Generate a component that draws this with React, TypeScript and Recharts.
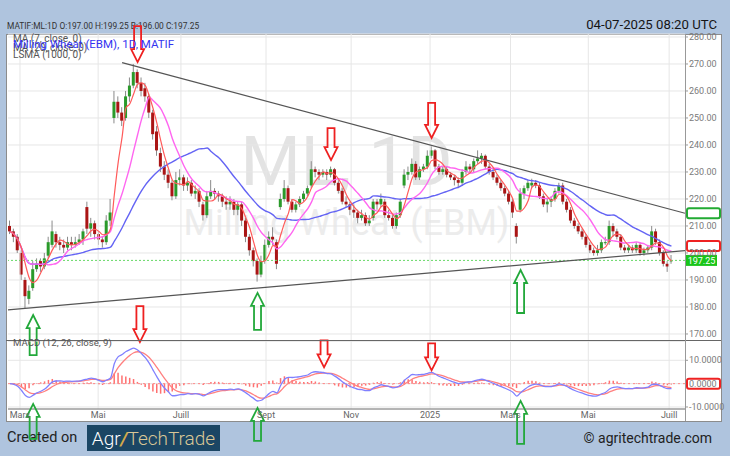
import React from 'react';
import {
  ComposedChart,
  Bar,
  Line,
  XAxis,
  YAxis,
  CartesianGrid,
  ReferenceLine,
  ReferenceDot,
} from 'recharts';

// One candle = two trading sessions
const opens = [
  210, 208, 206, 200, 190, 183, 187, 194, 197, 195,
  199, 203, 207, 204, 203, 202, 204, 203, 204, 205,
  217, 209, 211, 207, 205, 204, 212, 250, 256, 252,
  250, 258, 262, 267, 263, 261, 258, 252, 245, 237,
  232, 229, 226, 221, 227, 228, 225, 226, 222, 223,
  218, 214, 221, 223, 222, 221, 219, 218, 219, 216,
  218, 212, 206, 201, 197, 192, 197, 203, 206, 204,
  217, 220, 224, 219, 216, 218, 220, 222, 225, 231,
  230, 229, 230, 229, 231, 226, 223, 219, 218, 216,
  215, 213, 214, 211, 213, 219, 218, 219, 214, 213,
  210, 214, 225, 229, 230, 233, 228, 231, 232, 236,
  238, 232, 230, 231, 229, 228, 227, 226, 230, 232,
  231, 234, 235, 236, 232, 230, 228, 226, 224, 222,
  219, 210, 216, 222, 224, 225, 226, 225, 221, 218,
  219, 220, 223, 225, 219, 216, 212, 210, 208, 206,
  203, 201, 200, 201, 204, 204, 210, 208, 206, 202,
  201, 202, 201, 203, 200, 201, 202, 208, 204, 200,
  196, 197,
];
const highs = [
  212, 209, 207, 201, 191, 188, 197, 198, 198, 200,
  206, 212, 208, 206, 205, 206, 206, 206, 207, 209,
  219, 213, 212, 208, 206, 214, 220, 260, 258, 254,
  260, 265, 270, 268, 265, 263, 259, 253, 247, 239,
  234, 231, 227, 230, 231, 229, 228, 227, 225, 224,
  219, 223, 227, 224, 223, 222, 221, 221, 220, 219,
  219, 213, 207, 202, 198, 199, 205, 208, 209.5, 205,
  222, 227, 225, 220, 219, 221, 223, 225, 234, 232,
  231, 231, 231, 232, 231.5, 227, 224, 221, 219, 218,
  216, 216, 215, 214, 220, 220, 222, 220, 216, 214,
  215, 220, 231, 232, 235, 234, 232, 233, 238, 239.5,
  238.5, 233, 232, 232, 230, 229, 228, 231, 234, 233,
  235, 238, 237, 236.5, 233, 231, 229, 227, 225, 223,
  220, 211, 224, 225, 227, 227.5, 227, 226, 222, 220,
  221, 224, 226, 226, 220, 217, 213, 211, 209, 207,
  204, 202, 203, 205, 206, 212, 211, 209, 207, 203,
  203, 203, 204, 204, 202, 203, 210, 209, 205, 201,
  197, 199.25,
];
const lows = [
  207, 204, 200, 190, 179.5, 181, 186, 193, 193, 194,
  198, 202, 202, 201, 200, 201, 201, 202, 203, 203,
  207, 206, 205, 203, 202, 203, 210, 248, 250, 247,
  249, 256, 261, 261, 258, 256, 250, 242, 236, 230,
  227, 224, 219.5, 220, 225, 223, 223, 221, 220, 217,
  212, 213, 220, 220, 219, 217, 216, 216, 214, 214,
  210, 204, 199, 195, 189.4, 191, 196, 202, 203, 194,
  216, 219, 218, 215, 215, 217, 219, 221, 224, 228,
  227, 228, 227, 228, 225, 222, 218, 217, 214, 213,
  211, 212, 210, 210, 212, 216, 217, 213, 212, 209,
  209, 213, 224, 227, 229, 227, 227, 230, 231, 235,
  231, 229, 229, 228, 227, 225, 224, 225, 229, 230,
  230, 233, 233, 231, 229, 227, 225, 223, 221, 218,
  213, 203.5, 215, 220, 223, 224, 224, 220, 217, 215,
  217, 219, 222, 218, 215, 211, 209, 207, 205, 202,
  200, 199, 199, 200, 203, 203, 206, 205, 201, 200,
  200, 200, 200, 199, 199, 200, 201, 203, 199, 195,
  193, 196,
];
const closes = [
  208, 206, 201, 192, 184, 186, 194, 196, 195, 198,
  204, 208, 204, 203, 202, 204, 203, 204, 205, 208,
  209, 211, 207, 205, 204, 212, 215, 256, 252, 249,
  258, 262, 267, 263, 260, 258, 252, 244, 238, 232,
  229, 226, 221, 227, 228, 225, 226, 222, 223, 219,
  214, 221, 223, 222, 221, 219, 218, 219, 216, 218,
  212, 206, 201, 197, 192, 197, 203, 206, 205, 196,
  220, 224, 219, 216, 218, 220, 222, 224, 231, 230,
  229, 230, 229, 231, 226, 223, 219, 218, 216, 215,
  213, 214, 211, 212, 219, 218, 220, 214, 213, 210,
  214, 219, 229, 230, 233, 228, 231, 232, 236, 238,
  232, 230, 231, 229, 228, 227, 226, 230, 232, 231,
  234, 235, 236, 232, 230, 228, 226, 224, 222, 219,
  215, 206, 222, 224, 226, 226, 225, 221, 218, 219,
  220, 223, 225, 219, 216, 212, 210, 208, 206, 203,
  201, 200, 201, 204, 204, 210, 208, 206, 202, 201,
  202, 201, 203, 200, 201, 202, 208, 204, 200, 196,
  195, 197.25,
];

const dateTickIndex = [2.6, 22.8, 44.2, 66.2, 88.2, 108.6, 129.4, 149.5, 170.4];
const dateTickLabels = ['Mars', 'Mai', 'Juill', 'Sept', 'Nov', '2025', 'Mars', 'Mai', 'Juill'];
const priceTicks = [170, 180, 190, 200, 210, 220, 230, 240, 250, 260, 270, 280];
const macdTicks = [-10, 0, 10];
const lastPrice = 197.25;

const upperTrend = [{ x: 29, y: 270.5 }, { x: 174.5, y: 214.7 }];
const lowerTrend = [{ x: -0.5, y: 178.9 }, { x: 174.5, y: 200.9 }];

const priceArrows = [
  { i: 33, value: 270.7, dir: 'down', len: 36 },
  { i: 83, value: 234.4, dir: 'down', len: 32 },
  { i: 109, value: 242.6, dir: 'down', len: 35 },
  { i: 6, value: 177, dir: 'up', len: 40 },
  { i: 64, value: 185.2, dir: 'up', len: 37 },
  { i: 132, value: 193.7, dir: 'up', len: 43 },
];
const macdArrows = [
  { i: 33.6, value: 17.8, dir: 'down', len: 36 },
  { i: 81.2, value: 7.0, dir: 'down', len: 27 },
  { i: 109, value: 5.7, dir: 'down', len: 27 },
  { i: 6, value: -8.7, dir: 'up', len: 35 },
  { i: 64, value: -10.4, dir: 'up', len: 33 },
  { i: 132, value: -7.4, dir: 'up', len: 43 },
];
const priceAxisBoxes = [
  { value: 214.7, color: '#22aa33' },
  { value: 202.6, color: '#ee2222' },
];
const macdAxisBoxes = [{ value: 0, color: '#ee2222' }];

// Indicators (periods halved because each candle covers two sessions)
const sma = (arr: number[], n: number) =>
  arr.map((_, i) => {
    const w = arr.slice(Math.max(0, i - n + 1), i + 1);
    return w.reduce((a, b) => a + b, 0) / w.length;
  });
const ema = (arr: number[], n: number) => {
  const k = 2 / (n + 1);
  const out: number[] = [];
  arr.forEach((v, i) => out.push(i ? v * k + out[i - 1] * (1 - k) : v));
  return out;
};
const ma7 = sma(closes, 4);
const ma20 = sma(closes, 10);
const ma50 = sma(closes, 25);
const emaFast = ema(closes, 6);
const emaSlow = ema(closes, 13);
const macdLine = emaFast.map((v, i) => v - emaSlow[i]);
const signalLine = ema(macdLine, 4.5);

const rows = closes.map((c, i) => ({
  i,
  o: opens[i],
  h: highs[i],
  l: lows[i],
  c,
  range: [lows[i], highs[i]],
  ma7: ma7[i],
  ma20: ma20[i],
  ma50: ma50[i],
  macd: macdLine[i],
  signal: signalLine[i],
  hist: macdLine[i] - signalLine[i],
}));

const Candle = (props: any) => {
  const { x, y, width, height, payload } = props;
  if (x == null || y == null) return <g />;
  const top = Math.min(y, y + height);
  const h = Math.abs(height);
  const span = payload.h - payload.l || 1;
  const cx = x + width / 2;
  const yO = top + ((payload.h - payload.o) / span) * h;
  const yC = top + ((payload.h - payload.c) / span) * h;
  const up = payload.c >= payload.o;
  const color = up ? '#2a9a2a' : '#aa1515';
  return (
    <g>
      <line x1={cx} x2={cx} y1={top} y2={top + h} stroke="#8a8a8a" strokeWidth={1} />
      <rect
        x={cx - 1.5}
        y={Math.min(yO, yC)}
        width={3}
        height={Math.max(1, Math.abs(yC - yO))}
        fill={color}
      />
    </g>
  );
};

const arrowShape = (dir: string, len: number, color: string) => (p: any) => {
  const { cx, cy } = p;
  if (cx == null || cy == null) return <g />;
  const sw = 3.5;
  const hw = 6.5;
  const hh = 13;
  const s = dir === 'down' ? -1 : 1;
  const pts = [
    [cx - sw, cy + s * len],
    [cx + sw, cy + s * len],
    [cx + sw, cy + s * hh],
    [cx + hw, cy + s * hh],
    [cx, cy],
    [cx - hw, cy + s * hh],
    [cx - sw, cy + s * hh],
  ];
  return (
    <polygon
      points={pts.map((q) => q.join(',')).join(' ')}
      fill="none"
      stroke={color}
      strokeWidth={1.8}
      strokeLinejoin="miter"
    />
  );
};

const boxShape = (color: string) => (p: any) => {
  const { cx, cy } = p;
  if (cx == null || cy == null) return <g />;
  return <rect x={cx + 2} y={cy - 5} width={33} height={10} rx={2} fill="none" stroke={color} strokeWidth={2} />;
};

const priceLabelShape = (p: any) => {
  const { cx, cy } = p;
  if (cx == null || cy == null) return <g />;
  return (
    <g>
      <rect x={cx + 1} y={cy - 5.5} width={31} height={11} fill="#19c519" />
      <text x={cx + 16.5} y={cy + 3.3} textAnchor="middle" fontSize={9} fill="#ffffff" fontFamily="Roboto, sans-serif">
        {lastPrice.toFixed(2)}
      </text>
    </g>
  );
};

const arrowColor = (dir: string) => (dir === 'down' ? '#ee2020' : '#22a83a');

export default function App() {
  const font = 'Roboto, "Noto Sans", sans-serif';
  return (
    <div
      style={{
        position: 'absolute',
        left: 0,
        top: 0,
        width: 730,
        height: 456,
        background: '#afc4de',
        fontFamily: font,
        overflow: 'hidden',
      }}
    >
      <style>{`.recharts-surface{overflow:visible}.recharts-wrapper{overflow:visible}`}</style>
      {/* header */}
      <div style={{ position: 'absolute', left: 7, top: 21.5, fontSize: 8.4, lineHeight: '9px', color: '#333', whiteSpace: 'nowrap' }}>
        MATIF:ML:1D O:197.00 H:199.25 B:196.00 C:197.25
      </div>
      <div style={{ position: 'absolute', right: 13, top: 16.5, fontSize: 13.2, lineHeight: '15px', color: '#151515', whiteSpace: 'nowrap' }}>
        04-07-2025 08:20 UTC
      </div>
      {/* white frame */}
      <div style={{ position: 'absolute', left: 6, top: 34, width: 714, height: 386, background: '#fff', border: '1px solid #8c8c8c' }} />
      {/* watermark */}
      <div style={{ position: 'absolute', left: 8, top: 126, width: 677, textAlign: 'center', fontSize: 69, lineHeight: '72px', color: '#e3e3e3', whiteSpace: 'nowrap' }}>
        ML, 1D
      </div>
      <div style={{ position: 'absolute', left: 8, top: 203, width: 677, textAlign: 'center', fontSize: 36, lineHeight: '40px', color: '#ececec', whiteSpace: 'nowrap' }}>
        Milling Wheat (EBM)
      </div>
      {/* main chart */}
      <div style={{ position: 'absolute', left: 6, top: 34, zIndex: 2 }}>
        <ComposedChart width={715} height={307} data={rows} margin={{ top: 0, right: 0, bottom: 0, left: 2 }}>
          <CartesianGrid vertical={false} stroke="#e6e6e6" />
          <XAxis type="number" dataKey="i" domain={[-0.5, 174.5]} allowDataOverflow hide />
          <YAxis
            orientation="right"
            width={36}
            domain={[167.4, 281.1]}
            allowDataOverflow
            ticks={priceTicks}
            interval={0}
            tickFormatter={(v: number) => v.toFixed(2)}
            tick={{ fontSize: 9, fill: '#7a7a7a' }}
            tickSize={3}
            tickMargin={1}
            axisLine={false}
            tickLine={{ stroke: '#999' }}
          />
          {dateTickIndex.map((t) => (
            <ReferenceLine key={t} x={t} stroke="#e6e6e6" />
          ))}
          <ReferenceLine y={lastPrice} stroke="#66d866" strokeDasharray="2 2" />
          <Bar dataKey="range" barSize={3} shape={Candle} isAnimationActive={false} />
          <Line type="monotone" dataKey="ma50" stroke="#6464f4" strokeWidth={1.4} dot={false} isAnimationActive={false} />
          <Line type="monotone" dataKey="ma20" stroke="#ff66f0" strokeWidth={1.4} dot={false} isAnimationActive={false} />
          <Line type="monotone" dataKey="ma7" stroke="#ff5a5a" strokeWidth={1.2} dot={false} isAnimationActive={false} />
          <ReferenceLine segment={upperTrend} stroke="#555" strokeWidth={1.2} ifOverflow="visible" />
          <ReferenceLine segment={lowerTrend} stroke="#555" strokeWidth={1.2} ifOverflow="visible" />
          {priceArrows.map((a, k) => (
            <ReferenceDot key={'pa' + k} x={a.i} y={a.value} ifOverflow="visible" shape={arrowShape(a.dir, a.len, arrowColor(a.dir))} />
          ))}
          {priceAxisBoxes.map((b, k) => (
            <ReferenceDot key={'pb' + k} x={174.5} y={b.value} ifOverflow="visible" shape={boxShape(b.color)} />
          ))}
          <ReferenceDot x={174.5} y={lastPrice} ifOverflow="visible" shape={priceLabelShape} />
        </ComposedChart>
      </div>
      {/* MACD chart */}
      <div style={{ position: 'absolute', left: 6, top: 341, zIndex: 3 }}>
        <ComposedChart width={715} height={80} data={rows} margin={{ top: 0, right: 0, bottom: 0, left: 2 }}>
          <CartesianGrid vertical={false} stroke="#e6e6e6" />
          <XAxis
            type="number"
            dataKey="i"
            domain={[-0.5, 174.5]}
            allowDataOverflow
            ticks={dateTickIndex}
            interval={0}
            tickFormatter={(v: number) => dateTickLabels[dateTickIndex.indexOf(v)]}
            height={12}
            tick={{ fontSize: 9, fill: '#666' }}
            tickSize={0}
            tickMargin={3}
            axisLine={{ stroke: '#777' }}
          />
          <YAxis
            orientation="right"
            width={36}
            domain={[-10.87, 18.26]}
            allowDataOverflow
            ticks={macdTicks}
            interval={0}
            tickFormatter={(v: number) => v.toFixed(4)}
            tick={{ fontSize: 9, fill: '#7a7a7a' }}
            tickSize={3}
            tickMargin={1}
            axisLine={false}
            tickLine={{ stroke: '#999' }}
          />
          {dateTickIndex.map((t) => (
            <ReferenceLine key={t} x={t} stroke="#e6e6e6" />
          ))}
          <ReferenceLine y={0} stroke="#ff8a8a" strokeDasharray="2 3" />
          <Bar dataKey="hist" barSize={1.5} fill="#ff7070" isAnimationActive={false} />
          <Line type="monotone" dataKey="signal" stroke="#ff8080" strokeWidth={1.3} dot={false} isAnimationActive={false} />
          <Line type="monotone" dataKey="macd" stroke="#8080ff" strokeWidth={1.3} dot={false} isAnimationActive={false} />
          {macdArrows.map((a, k) => (
            <ReferenceDot key={'ma' + k} x={a.i} y={a.value} ifOverflow="visible" shape={arrowShape(a.dir, a.len, arrowColor(a.dir))} />
          ))}
          {macdAxisBoxes.map((b, k) => (
            <ReferenceDot key={'mb' + k} x={174.5} y={b.value} ifOverflow="visible" shape={boxShape(b.color)} />
          ))}
        </ComposedChart>
      </div>
      {/* panel separator and right axis line */}
      <div style={{ position: 'absolute', left: 6, top: 340, width: 715, height: 1, background: '#666', zIndex: 4 }} />
      <div style={{ position: 'absolute', left: 685, top: 34, width: 1, height: 387, background: '#999', zIndex: 4 }} />
      {/* legend */}
      <div style={{ position: 'absolute', left: 13, top: 34, fontSize: 10, lineHeight: '10px', color: '#555', whiteSpace: 'nowrap', zIndex: 5 }}>
        MA (7, close, 0)
      </div>
      <div style={{ position: 'absolute', left: 13, top: 43, fontSize: 10, lineHeight: '10px', color: '#555', whiteSpace: 'nowrap', zIndex: 5 }}>
        MA (20, close, 0)
      </div>
      <div style={{ position: 'absolute', left: 13, top: 50, fontSize: 10, lineHeight: '10px', color: '#555', whiteSpace: 'nowrap', zIndex: 5 }}>
        LSMA (1000, 0)
      </div>
      <div style={{ position: 'absolute', left: 13, top: 38, fontSize: 11.5, lineHeight: '12px', color: '#3434f0', whiteSpace: 'nowrap', zIndex: 6 }}>
        Milling Wheat (EBM), 1D, MATIF
      </div>
      <div style={{ position: 'absolute', left: 13, top: 338, fontSize: 9.6, lineHeight: '10px', color: '#555', whiteSpace: 'nowrap', zIndex: 5 }}>
        MACD (12, 26, close, 9)
      </div>
      {/* footer */}
      <div style={{ position: 'absolute', left: 7, top: 430, fontSize: 14.5, lineHeight: '16px', color: '#222', whiteSpace: 'nowrap', zIndex: 1 }}>
        Created on
      </div>
      <div
        style={{
          position: 'absolute',
          left: 87,
          top: 425,
          width: 133,
          height: 26,
          background: '#1b4664',
          zIndex: 1,
          display: 'flex',
          alignItems: 'center',
          justifyContent: 'center',
          fontSize: 19,
          fontWeight: 300,
          whiteSpace: 'nowrap',
        }}
      >
        <span style={{ color: '#ffffff' }}>Agr</span>
        <span style={{ color: '#d2a94a', fontStyle: 'italic', fontWeight: 700 }}>/</span>
        <span style={{ color: '#d9c796' }}>TechTrade</span>
      </div>
      <div style={{ position: 'absolute', right: 18, top: 430, fontSize: 14, lineHeight: '16px', color: '#222', whiteSpace: 'nowrap', zIndex: 1 }}>
        © agritechtrade.com
      </div>
    </div>
  );
}
